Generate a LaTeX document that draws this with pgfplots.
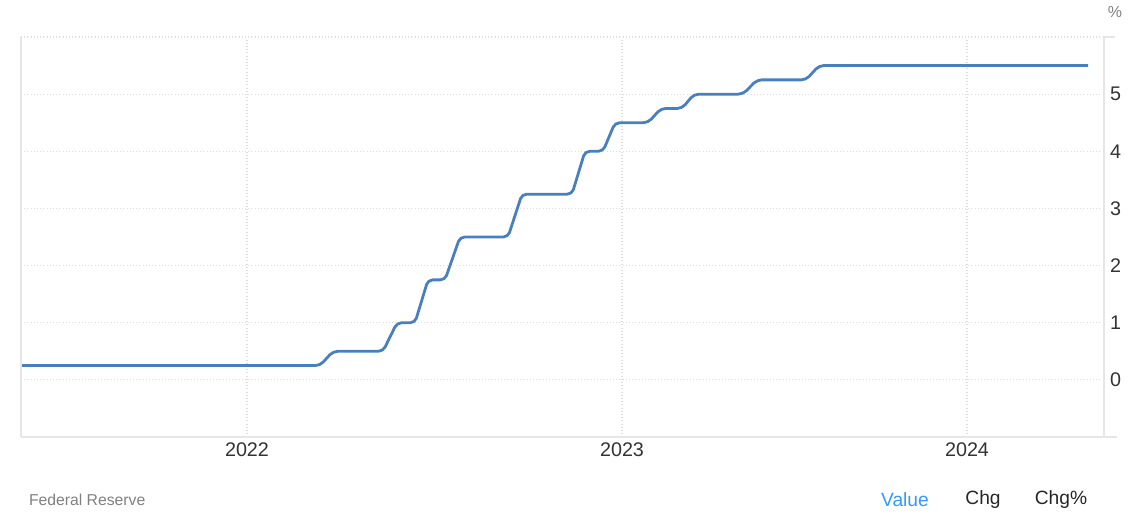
\documentclass[border=0pt]{standalone}
\usepackage{fontspec}
\setmainfont{Liberation Sans}
\usepackage{pgfplots}
\pgfplotsset{compat=1.18}

\definecolor{rateblue}{RGB}{74,127,190}
\definecolor{gridgray}{RGB}{221,221,221}
\definecolor{axisgray}{RGB}{230,230,230}
\definecolor{labeldark}{RGB}{51,51,51}
\definecolor{srcgray}{RGB}{128,128,128}
\definecolor{linkblue}{RGB}{51,153,255}

% fed funds upper bound, x = position along the time axis (ref. pixel column)
\pgfplotstableread{
x    rate
21   0.25
320  0.25
333  0.50
383  0.50
397  1.00
415  1.00
428  1.75
445  1.75
460  2.50
508  2.50
522  3.25
572  3.25
585  4.00
603  4.00
615  4.50
648  4.50
661  4.75
682  4.75
694  5.00
743  5.00
757  5.25
806  5.25
819  5.50
1088 5.50
}\fedrate

\begin{document}
\begin{tikzpicture}
\useasboundingbox (-15.75pt,-66.75pt) rectangle (835.5pt,327.75pt);
\begin{axis}[
    at={(0,0)}, anchor=south west,
    width=812.25pt, height=300pt,
    scale only axis,
    xmin=21, xmax=1104,
    ymin=-1, ymax=6,
    xtick={247,622,967},
    xticklabels={2022,2023,2024},
    ytick={-1,0,1,2,3,4,5,6},
    yticklabels={,0,1,2,3,4,5,},
    yticklabel pos=right,
    /pgf/number format/assume math mode=true,
    tick label style={font=\fontsize{14.8pt}{16pt}\selectfont, text=labeldark},
    yticklabel style={anchor=west, xshift=1pt},
    xticklabel style={yshift=-1pt},
    major tick length=0pt,
    grid=major,
    major grid style={gridgray, dotted, line width=0.8pt},
    axis line style={draw=none},
    clip=false,
]
\addplot[rateblue, line width=2.1pt, rounded corners=3.5pt, line join=round]
    table[x=x, y=rate] {\fedrate};
% frame lines
\draw[axisgray, line width=1.2pt] (axis cs:21,-1) -- (axis cs:21,6);
\draw[axisgray, line width=1.2pt] (axis cs:1104,-1) -- (axis cs:1104,6);
\draw[axisgray, line width=1.2pt] (axis cs:21,-1) -- (axis cs:1117,-1);
\draw[axisgray, line width=0.8pt] (axis cs:1104,6) -- (axis cs:1115,6);
\end{axis}
\node[text=srcgray, font=\fontsize{12pt}{14pt}\selectfont] at (820.5pt,318.75pt) {\%};
\node[anchor=west, text=srcgray, font=\fontsize{11.8pt}{13pt}\selectfont] at (2.5pt,-47.25pt) {Federal Reserve};
\node[text=linkblue, font=\fontsize{14.4pt}{16pt}\selectfont] at (663pt,-47.25pt) {Value};
\node[text=black!85, font=\fontsize{14.4pt}{16pt}\selectfont] at (721.5pt,-47.25pt) {Chg};
\node[text=black!85, font=\fontsize{14.4pt}{16pt}\selectfont] at (780pt,-47.25pt) {Chg\%};
\end{tikzpicture}
\end{document}
